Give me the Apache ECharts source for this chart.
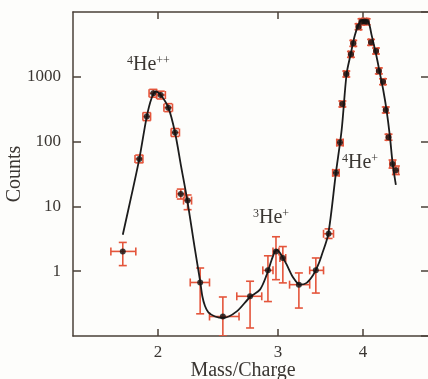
<!DOCTYPE html>
<html>
<head>
<meta charset="utf-8">
<script src="https://cdn.jsdelivr.net/npm/echarts@6/dist/echarts.min.js"></script>
<style>
  html, body { margin: 0; padding: 0; background: #fdfdfb; }
  #chart { width: 428px; height: 379px; }
</style>
</head>
<body>
<div id="chart"></div>
<script>
// measured points (mass/charge, counts) with error bar ends
const massCharge = [1.775, 1.877, 1.925, 1.968, 2.018, 2.07, 2.118, 2.16, 2.21,
  2.306, 2.49, 2.73, 2.90, 2.98, 3.05, 3.22, 3.41, 3.56,
  3.65, 3.70, 3.73, 3.78, 3.84, 3.87, 3.94, 3.98, 4.02, 4.05, 4.11, 4.18, 4.22, 4.28, 4.32, 4.36, 4.42, 4.47];
const counts = [2.02, 54, 243, 557, 524, 334, 138, 15.6, 12.3,
  0.67, 0.20, 0.41, 1.03, 2.02, 1.6, 0.62, 1.03, 3.78,
  33, 96.5, 381, 1105, 2220, 3280, 5920, 7070, 7150, 7070, 3400, 2500, 1230, 840, 308, 117, 45, 36];
const massLow = [1.705, 1.85, 1.90, 1.94, 1.99, 2.04, 2.09, 2.13, 2.18,
  2.23, 2.38, 2.61, 2.85, 2.95, 3.02, 3.12, 3.34, 3.50,
  3.61, 3.66, 3.70, 3.75, 3.81, 3.84, 3.91, 3.95, 3.99, 4.02, 4.08, 4.15, 4.19, 4.25, 4.29, 4.33, 4.38, 4.43];
const massHigh = [1.855, 1.90, 1.95, 1.99, 2.05, 2.10, 2.15, 2.19, 2.24,
  2.38, 2.63, 2.84, 2.95, 3.01, 3.08, 3.34, 3.50, 3.62,
  3.69, 3.74, 3.76, 3.81, 3.87, 3.90, 3.97, 4.01, 4.05, 4.08, 4.14, 4.21, 4.25, 4.31, 4.35, 4.39, 4.46, 4.51];
const countsLow = [1.22, 47, 211, 485, 455, 290, 120, 13, 8.9,
  0.22, 0.1, 0.133, 0.34, 0.74, 0.66, 0.27, 0.46, 3.2,
  29.7, 87, 343, 995, 2000, 2950, 5330, 6370, 6440, 6370, 3060, 2250, 1110, 757, 277, 105, 39, 31];
const countsHigh = [2.78, 62, 280, 640, 600, 385, 159, 18.5, 15,
  1.12, 0.40, 0.70, 1.73, 3.4, 2.4, 0.94, 1.6, 4.5,
  36.6, 107, 423, 1225, 2460, 3640, 6570, 7850, 7940, 7850, 3770, 2780, 1370, 932, 342, 130, 52, 42];

// fitted curve
const fitMass = [1.775, 1.826, 1.877, 1.925, 1.957, 1.984, 2.018, 2.071, 2.118, 2.162, 2.208,
  2.262, 2.306, 2.323, 2.344, 2.371, 2.425, 2.494, 2.61, 2.73, 2.823, 2.888, 2.937, 2.970,
  2.993, 3.038, 3.090, 3.160, 3.232, 3.306, 3.381, 3.438, 3.480, 3.556, 3.650, 3.721, 3.784,
  3.836, 3.892, 3.958, 4.003, 4.071, 4.118, 4.188, 4.235, 4.283, 4.331, 4.381, 4.421, 4.470];
const fitCounts = [3.65, 14, 54, 243, 471, 593, 524, 334, 138, 41.5, 12.3,
  2.41, 0.70, 0.41, 0.29, 0.232, 0.20, 0.19, 0.24, 0.40, 0.52, 0.88, 1.50, 2.02,
  2.14, 1.73, 1.26, 0.79, 0.62, 0.66, 0.88, 1.26, 1.8, 3.74, 33.3, 151, 1105,
  2220, 4400, 7070, 7500, 7070, 4400, 2040, 1130, 626, 308, 119, 46.5, 21.5];

const xTicks = [2, 3, 4];
const peakLabels = [
  { text: '{s|4}He{s|++}', x: 127, y: 55 },
  { text: '{s|3}He{s|+}', x: 253, y: 208 },
  { text: '{s|4}He{s|+}', x: 342, y: 153 }
];

const errColor = '#e4553b';
const axisColor = '#4a4038';
const textColor = '#3a3632';
const serif = '"Liberation Serif", "DejaVu Serif", serif';

let chart = echarts.init(document.getElementById('chart'));

let errRows = massCharge.map((m, i) => [m, counts[i], massLow[i], massHigh[i], countsLow[i], countsHigh[i]]);

let renderErr = (params, api) => {
  const x = api.value(0), y = api.value(1);
  const l = api.coord([api.value(2), y]);
  const r = api.coord([api.value(3), y]);
  const b = api.coord([x, api.value(4)]);
  const t = api.coord([x, api.value(5)]);
  const cap = 4;
  const style = { stroke: errColor, lineWidth: 1.6 };
  const seg = (x1, y1, x2, y2) => ({ type: 'line', shape: { x1, y1, x2, y2 }, style });
  return {
    type: 'group',
    children: [
      seg(l[0], l[1], r[0], r[1]),
      seg(b[0], b[1], t[0], t[1]),
      seg(l[0], l[1] - cap, l[0], l[1] + cap),
      seg(r[0], r[1] - cap, r[0], r[1] + cap),
      seg(b[0] - cap, b[1], b[0] + cap, b[1]),
      seg(t[0] - cap, t[1], t[0] + cap, t[1])
    ]
  };
};

let xAxisBase = {
  type: 'log',
  logBase: 10,
  min: 1.5,
  max: 5,
  axisLine: { lineStyle: { color: axisColor, width: 1.5 } },
  axisTick: { inside: true, length: 7, customValues: xTicks, lineStyle: { color: axisColor, width: 1.5 } },
  minorTick: { show: false },
  splitLine: { show: false }
};
let yAxisBase = {
  type: 'log',
  logBase: 10,
  min: 0.1,
  max: 10000,
  axisLine: { lineStyle: { color: axisColor, width: 1.5 } },
  axisTick: { inside: true, length: 8, lineStyle: { color: axisColor, width: 1.5 } },
  splitLine: { show: false }
};

chart.setOption({
  backgroundColor: '#fdfdfb',
  animation: false,
  grid: { left: 73, top: 12, width: 356, height: 324, outerBoundsMode: 'none', containLabel: false },
  xAxis: [
    Object.assign({}, xAxisBase, {
      position: 'bottom',
      name: 'Mass/Charge',
      nameLocation: 'middle',
      nameGap: 25,
      nameMoveOverlap: false,
      nameTextStyle: { fontFamily: serif, fontSize: 20, color: textColor, padding: [0, 16, 0, 0] },
      axisLabel: { customValues: xTicks, fontFamily: serif, fontSize: 17, color: textColor, margin: 8 }
    }),
    Object.assign({}, xAxisBase, { position: 'top', axisLabel: { show: false } })
  ],
  yAxis: [
    Object.assign({}, yAxisBase, {
      position: 'left',
      name: 'Counts',
      nameLocation: 'middle',
      nameGap: 48,
      nameMoveOverlap: false,
      nameTextStyle: { fontFamily: serif, fontSize: 20, color: textColor },
      axisLabel: {
        fontFamily: serif, fontSize: 17, color: textColor, margin: 12,
        showMinLabel: false, showMaxLabel: false,
        formatter: (v) => String(Math.round(v))
      }
    }),
    Object.assign({}, yAxisBase, { position: 'right', axisLabel: { show: false } })
  ],
  graphic: peakLabels.map((p) => ({
    type: 'text',
    left: p.x,
    top: p.y,
    style: {
      text: p.text,
      fill: textColor,
      font: '20px ' + serif,
      rich: { s: { fontSize: 12, fontFamily: serif, verticalAlign: 'top', fill: textColor } }
    }
  })),
  series: [
    {
      type: 'custom',
      name: 'errors',
      renderItem: renderErr,
      data: errRows,
      encode: { x: [0, 2, 3], y: [1, 4, 5] },
      clip: true,
      z: 2
    },
    {
      type: 'line',
      name: 'fit',
      data: fitMass.map((m, i) => [m, fitCounts[i]]),
      showSymbol: false,
      smooth: 0.3,
      lineStyle: { color: '#1c1c1c', width: 1.8 },
      z: 3
    },
    {
      type: 'scatter',
      name: 'data',
      data: massCharge.map((m, i) => [m, counts[i]]),
      symbolSize: 6,
      itemStyle: { color: '#111' },
      z: 4
    }
  ]
});
</script>
</body>
</html>
